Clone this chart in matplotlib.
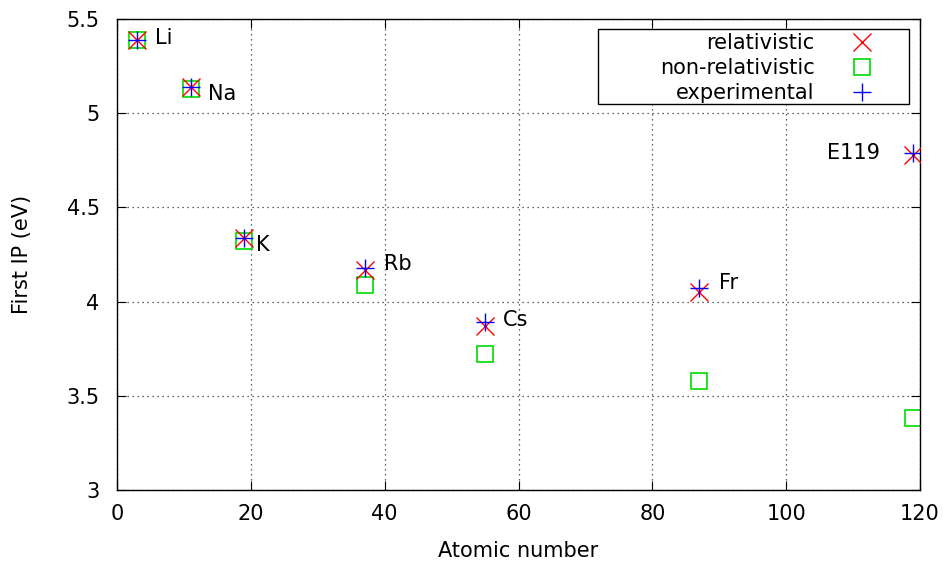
import matplotlib.pyplot as plt
from matplotlib.patches import Rectangle

# atomic numbers and first ionisation potentials (eV)
elements = ['Li', 'Na', 'K', 'Rb', 'Cs', 'Fr', 'E119']
z = [3, 11, 19, 37, 55, 87, 119]
relativistic = [5.39, 5.14, 4.34, 4.17, 3.87, 4.05, 4.78]
non_relativistic = [5.39, 5.13, 4.32, 4.09, 3.72, 3.58, 3.38]
experimental = [5.39, 5.14, 4.34, 4.18, 3.89, 4.07, 4.79]

# label positions (data coordinates)
label_x = [5.7, 13.6, 20.8, 39.9, 57.7, 90.0, 114.0]
label_y = [5.40, 5.10, 4.30, 4.20, 3.90, 4.10, 4.79]
label_ha = ['left'] * 6 + ['right']

plt.rcParams['font.family'] = 'DejaVu Sans'
fs = 15

fig = plt.figure(figsize=(9.47, 5.65), dpi=100)
ax = fig.add_axes([0.1236, 0.1327, 0.8479, 0.8337])

ax.plot(z, relativistic, linestyle='none', marker='x', color='#ff0000',
        markersize=12.5, markeredgewidth=1, label='relativistic', zorder=3)
ax.plot(z, non_relativistic, linestyle='none', marker='s', color='#00dd00',
        markerfacecolor='none', markersize=12, markeredgewidth=1.2,
        label='non-relativistic', zorder=2)
ax.plot(z, experimental, linestyle='none', marker='+', color='#0000ff',
        markersize=13, markeredgewidth=1, label='experimental', zorder=4)

for name, x, y, ha in zip(elements, label_x, label_y, label_ha):
    ax.text(x, y, name, ha=ha, va='center', fontsize=fs)

ax.set_xlim(0, 120)
ax.set_ylim(3, 5.5)
ax.set_xticks(range(0, 121, 20))
ax.set_yticks([3, 3.5, 4, 4.5, 5, 5.5])
ax.set_yticklabels(['3', '3.5', '4', '4.5', '5', '5.5'])
ax.tick_params(direction='in', length=6.5, top=True, right=True, labelsize=fs)
ax.tick_params(axis='y', pad=12.5)
ax.tick_params(axis='x', pad=10)
ax.grid(True, linestyle=(0, (1, 3)), color='#333333', linewidth=0.9)
for s in ax.spines.values():
    s.set_linewidth(1)

ax.set_xlabel('Atomic number', fontsize=fs, labelpad=12)
ax.set_ylabel('First IP (eV)', fontsize=fs, labelpad=25)

# gnuplot-style key: labels right-aligned, sample to the right, wide box
leg = ax.legend(loc='upper right', bbox_to_anchor=(0.960, 0.977),
                markerfirst=False, frameon=False, fontsize=fs,
                handlelength=2.2, borderpad=0.15, labelspacing=0.25,
                handletextpad=1.17, borderaxespad=0)
for t in leg.get_texts():
    t.set_ha('right')
leg._legend_box.align = 'right'
ax.add_patch(Rectangle((0.599, 0.8195), 0.387, 0.1593, transform=ax.transAxes,
                       facecolor='white', edgecolor='black', linewidth=1,
                       zorder=5))
leg.set_zorder(6)

fig.savefig('out.png', dpi=100)
